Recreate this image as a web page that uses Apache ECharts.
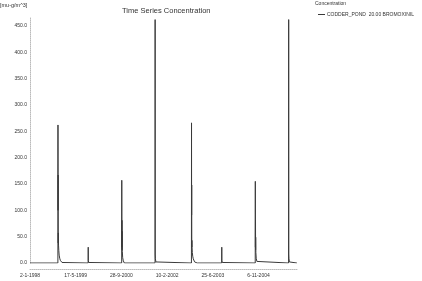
<!DOCTYPE html>
<html>
<head>
<meta charset="utf-8">
<script src="https://cdn.jsdelivr.net/npm/echarts@6/dist/echarts.min.js"></script>
<style>html,body{margin:0;padding:0;background:#fff}#c{width:422px;height:281px}</style>
</head>
<body>
<div id="c"></div>
<script>
// ---- data ----
var dates = [
  '1998-01-02',
  '1998-11-03','1998-11-04','1998-11-05','1998-11-06','1998-11-07','1998-11-08','1998-11-10','1998-11-13','1998-11-17','1998-11-23','1998-11-30','1998-12-08','1998-12-18','1999-01-05',
  '1999-09-30','1999-10-01','1999-10-02','1999-10-06','1999-10-15',
  '2000-10-01','2000-10-02','2000-10-03','2000-10-04','2000-10-05','2000-10-06','2000-10-08','2000-10-12','2000-10-19','2000-10-30',
  '2001-10-01','2001-10-02','2001-10-03','2001-10-05','2001-10-10','2001-10-20',
  '2002-11-03','2002-11-04','2002-11-05','2002-11-06','2002-11-07','2002-11-08','2002-11-10','2002-11-13','2002-11-17','2002-11-23','2002-11-30','2002-12-08','2002-12-18','2003-01-05',
  '2003-09-30','2003-10-01','2003-10-02','2003-10-06','2003-10-15',
  '2004-10-01','2004-10-02','2004-10-03','2004-10-04','2004-10-05','2004-10-06','2004-10-08','2004-10-12','2004-10-19','2004-10-30',
  '2005-10-01','2005-10-02','2005-10-03','2005-10-05','2005-10-10','2005-10-20',
  '2005-12-31'
];
var concentration = [
  0,
  0,262,100,167,38,57,34,24,15,9,5,2.5,1,0,
  0,30,5,1,0,
  0,157,30,81,25,60,22,10,4,0,
  0,462,17,8,2,0,
  0,266,91,148,30,43,30,20,13,8,4.5,2,0.8,0,
  0,30,5,1,0,
  0,155,30,81,25,49,20,9,3,0,
  0,462,17,8,2,0,
  0
];
var tickStart = '1998-01-02';
var tickStepDays = 500;
var axisEnd = '2006-01-01';
var yTicks = [0, 50, 100, 150, 200, 250, 300, 350, 400, 450];
var seriesName = 'CODDER_POND  20.00 BROMOXINIL';

function toUTC(s){ var p = s.split('-'); return Date.UTC(+p[0], +p[1]-1, +p[2]); }
var DAY = 86400000;
var points = dates.map(function(d, i){ return [toUTC(d), concentration[i]]; });

var chart = echarts.init(document.getElementById('c'), null, {renderer:'canvas'});
var font = 'Liberation Sans, Arial, sans-serif';
chart.setOption({
  animation: false,
  backgroundColor: '#fff',
  title: {
    text: 'Time Series Concentration',
    left: 117, top: 2,
    textStyle: {fontSize: 7.5, fontWeight: 'normal', color: '#333', fontFamily: font}
  },
  graphic: [
    {type:'text', left: 0, top: 2, style:{text:'[mu-g/m^3]', fontSize: 5.5, fill:'#333', fontFamily: font}},
    {type:'text', left: 315, top: 1, style:{text:'Concentration', fontSize: 5, fill:'#333', fontFamily: font}}
  ],
  legend: {
    left: 313, top: 7,
    itemWidth: 7, itemHeight: 1, itemGap: 2,
    icon: 'rect',
    textStyle: {fontSize: 5, color: '#333', fontFamily: font, padding:[0,0,0,-3]},
    data: [seriesName]
  },
  grid: {left: 30, right: 125, top: 18, bottom: 18},
  xAxis: {
    type: 'value',
    min: toUTC(tickStart),
    max: toUTC(axisEnd),
    interval: tickStepDays * DAY,
    offset: 6,
    axisLine: {show: true, onZero: false, lineStyle: {color: '#bbb', type: 'dotted', width: 1}},
    axisTick: {show: false},
    splitLine: {show: false},
    axisLabel: {
      fontSize: 5, color: '#333', fontFamily: font, margin: 4, showMaxLabel: false,
      formatter: function(v){ var d = new Date(v); return d.getUTCDate() + '-' + (d.getUTCMonth()+1) + '-' + d.getUTCFullYear(); }
    }
  },
  yAxis: {
    type: 'value',
    min: yTicks[0], max: 465, interval: yTicks[1]-yTicks[0],
    axisLine: {show: true, lineStyle: {color: '#bbb', type: 'dotted', width: 1}},
    axisTick: {show: false},
    splitLine: {show: false},
    axisLabel: {
      fontSize: 5, color: '#333', fontFamily: font, margin: 3, showMaxLabel: false,
      formatter: function(v){ return v.toFixed(1); }
    }
  },
  series: [{
    name: seriesName,
    type: 'line',
    data: points,
    showSymbol: false,
    symbol: 'none',
    lineStyle: {color: '#3a3a3a', width: 1},
    itemStyle: {color: '#3a3a3a'}
  }]
});
</script>
</body>
</html>
